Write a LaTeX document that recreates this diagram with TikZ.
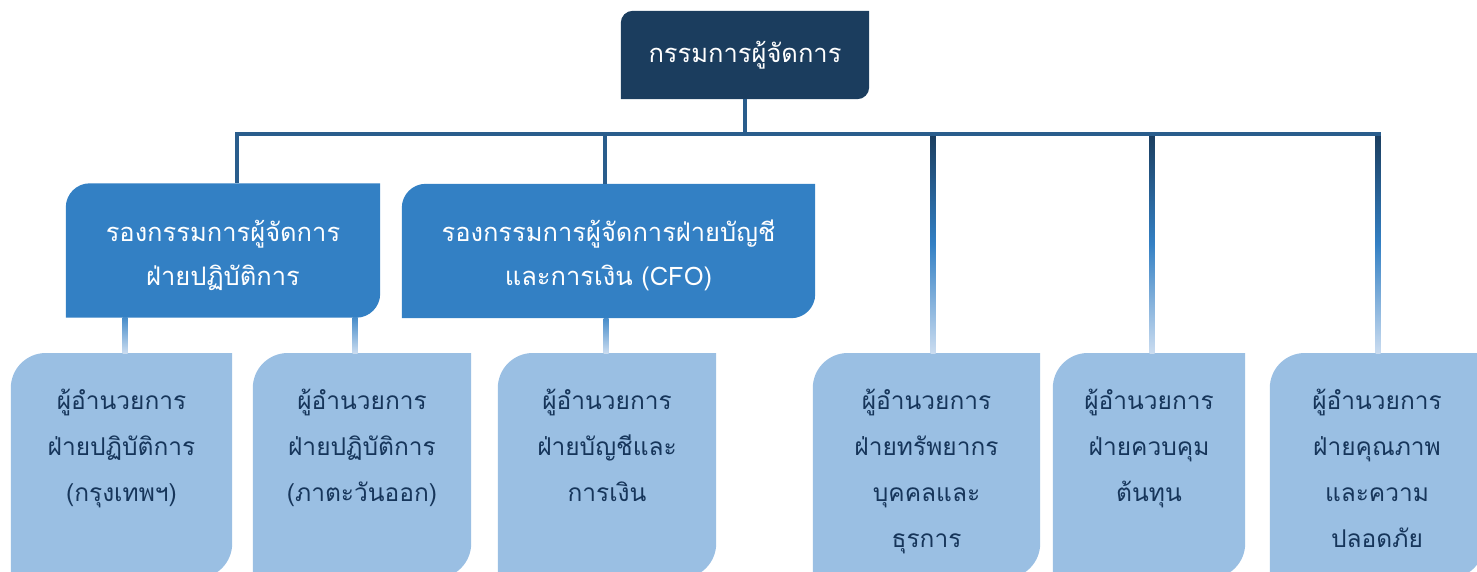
\documentclass[tikz,border=0pt]{standalone}
\usepackage{fontspec}
\newfontfamily\thaifont[Script=Thai]{Loma}
\usetikzlibrary{backgrounds}
\definecolor{navy}{HTML}{1B3D5E}
\definecolor{midblue}{HTML}{3380C4}
\definecolor{paleblue}{HTML}{9ABFE3}
\definecolor{barblue}{HTML}{2A5D8C}
\definecolor{fadeblue}{HTML}{CADCF0}
\definecolor{inknavy}{HTML}{16355A}

\tikzset{
	bossbox/.style={minimum width=248pt, minimum height=88pt, inner sep=0pt, text=white, font=\thaifont\fontsize{25.5}{30}\selectfont},
	vpbox/.style={minimum width=#1, minimum height=134pt, inner sep=0pt, align=center, text=white, font=\thaifont\fontsize{25.5}{44}\selectfont},
	dirbox/.style={anchor=north, inner sep=0pt, text width=#1, align=center, text height=56pt, text depth=169pt, text=inknavy, font=\thaifont\fontsize{24.5}{46}\selectfont},
	bus/.style={line width=4pt, color=barblue},
	longfade/.style={top color=navy, bottom color=fadeblue, middle color=midblue},
	shortfade/.style={top color=midblue!90!white, bottom color=fadeblue}
}

\begin{document}
\begin{tikzpicture}[x=1pt, y=-1pt]
	%%%%% frame %%%%%
	\useasboundingbox (0,0) rectangle (1477,571);
	\clip (0,0) rectangle (1477,571);
	
	%%%%% boxes %%%%%
	\node[bossbox] (boss) at (745,55) {กรรมการผู้จัดการ};
	
	% text sits 4.5 lower than the box middle
	\node[vpbox=314pt] (vpA) at (223,255) {รองกรรมการผู้จัดการ\\ฝ่ายปฏิบัติการ};
	\node[vpbox=413pt] (vpB) at (608.5,255.5) {รองกรรมการผู้จัดการฝ่ายบัญชี\\และการเงิน (CFO)};
	
	\node[dirbox=221pt] (dirA) at (121.5,353) {ผู้อำนวยการ\\ฝ่ายปฏิบัติการ\\(กรุงเทพฯ)};
	\node[dirbox=218pt] (dirB) at (362,353) {ผู้อำนวยการ\\ฝ่ายปฏิบัติการ\\(ภาตะวันออก)};
	\node[dirbox=218pt] (dirC) at (607,353) {ผู้อำนวยการ\\ฝ่ายบัญชีและ\\การเงิน};
	\node[dirbox=227pt] (dirD) at (926.5,353) {ผู้อำนวยการ\\ฝ่ายทรัพยากร\\บุคคลและ\\ธุรการ};
	\node[dirbox=192pt] (dirE) at (1149,353) {ผู้อำนวยการ\\ฝ่ายควบคุม\\ต้นทุน};
	\node[dirbox=214pt] (dirF) at (1377,353) {ผู้อำนวยการ\\ฝ่ายคุณภาพ\\และความ\\ปลอดภัย};
	
	% fills with two rounded corners
	\begin{scope}[on background layer]
		\foreach \n/\c/\r/\dy in {boss/navy/12/0, vpA/midblue/24/4.5, vpB/midblue/24/4.5, dirA/paleblue/35/0, dirB/paleblue/35/0, dirC/paleblue/35/0, dirD/paleblue/35/0, dirE/paleblue/35/0, dirF/paleblue/35/0}
			\fill[\c] ([yshift=\dy pt]\n.west) [rounded corners=\r pt] |- ([yshift=\dy pt]\n.north) [sharp corners] -| ([yshift=\dy pt]\n.east) [rounded corners=\r pt] |- ([yshift=\dy pt]\n.south) [sharp corners] -| ([yshift=\dy pt]\n.west) -- cycle;
	\end{scope}
	
	%%%%% connectors %%%%%
	\coordinate (busL) at (235,134);
	\coordinate (busR) at (1381,134);
	
	\foreach \n/\dx in {dirD/6.5, dirE/3, dirF/1}
		\shade[longfade] ([xshift=\dx pt-2.5pt]\n.north |- busL) rectangle ([xshift=\dx pt+2.5pt]\n.north);
	
	\foreach \n/\p/\dx in {dirA/vpA/3.5, dirB/vpA/-7, dirC/vpB/-1}
		\shade[shortfade] ([xshift=\dx pt-2.5pt, yshift=4.5pt]\n.north |- \p.south) rectangle ([xshift=\dx pt+2.5pt]\n.north);
	
	\draw[bus] (boss.south) -- (boss.south |- busL);
	\draw[bus] (busL) -- (busR);
	\draw[bus] ([xshift=14pt]vpA.north |- busL) -- ([xshift=14pt,yshift=4.5pt]vpA.north);
	\draw[bus] ([xshift=-3.5pt]vpB.north |- busL) -- ([xshift=-3.5pt,yshift=4.5pt]vpB.north);
	
\end{tikzpicture}
\end{document}
